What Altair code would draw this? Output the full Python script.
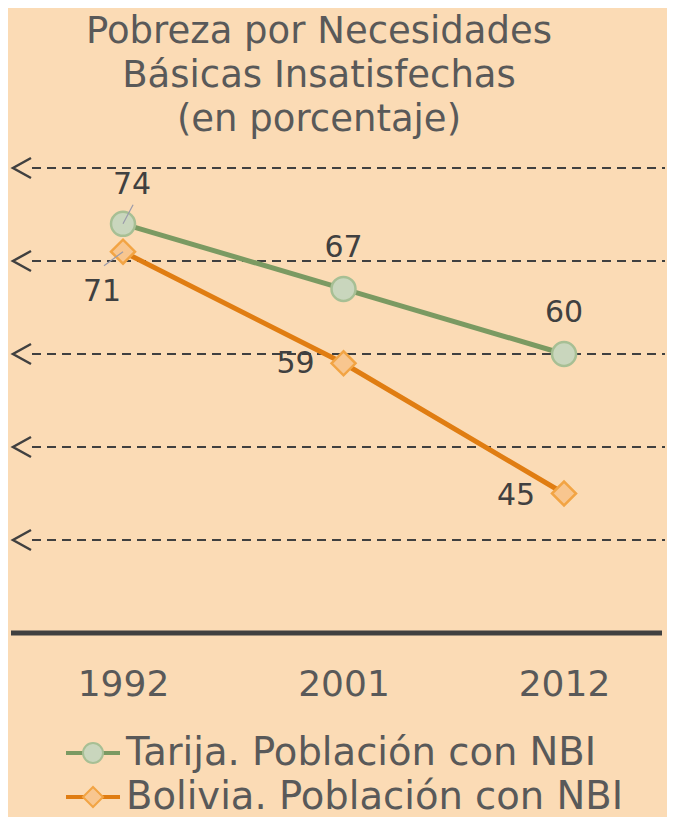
import altair as alt
import pandas as pd

# ---- data ----
years = ["1992", "2001", "2012"]
series = ["Tarija. Población con NBI", "Bolivia. Población con NBI"]
tarija = [74, 67, 60]
bolivia = [71, 59, 45]
grid_values = [40, 50, 60, 70, 80]
y_domain = [30, 80]
title_lines = ["Pobreza por Necesidades", "Básicas Insatisfechas", "(en porcentaje)"]

rows = []
for yr, v in zip(years, tarija):
    rows.append({"year": yr, "series": series[0], "value": v})
for yr, v in zip(years, bolivia):
    rows.append({"year": yr, "series": series[1], "value": v})
df = pd.DataFrame(rows)
grid_df = pd.DataFrame({"g": grid_values})
base_df = pd.DataFrame({"g": [y_domain[0]]})
legend_df = pd.DataFrame({"series": series})

# ---- style ----
FONT = "DejaVu Sans"
BG = "#FBDBB5"
DARK = "#404040"
TEXT = "#595959"
line_colors = ["#7B9A62", "#E07D12"]
fill_colors = ["#C9D6BD", "#F8C68F"]
stroke_colors = ["#A7BF94", "#F2A444"]
shapes = ["circle", "diamond"]
W, H = 656, 465

color_enc = alt.Color("series:N", scale=alt.Scale(domain=series, range=line_colors), legend=None)
fill_enc = alt.Fill("series:N", scale=alt.Scale(domain=series, range=fill_colors), legend=None)
stroke_enc = alt.Stroke("series:N", scale=alt.Scale(domain=series, range=stroke_colors), legend=None)
shape_enc = alt.Shape("series:N", scale=alt.Scale(domain=series, range=shapes), legend=None)

x_enc = alt.X(
    "year:N", sort=years,
    scale=alt.Scale(type="point", padding=0.4875, align=0.521),
    axis=alt.Axis(title=None, domain=False, ticks=False, tickSize=0,
                  labelFontSize=36, labelFont=FONT, labelColor=TEXT,
                  labelPadding=34, labelAngle=0, grid=False, labelBaseline="top"),
)
y_scale = alt.Scale(domain=y_domain, nice=False, zero=False)
y_enc = alt.Y("value:Q", scale=y_scale, axis=None)
g_enc = alt.Y("g:Q", scale=y_scale, axis=None)

base = alt.Chart(df)

grid = alt.Chart(grid_df).mark_rule(stroke=DARK, strokeWidth=2, strokeDash=[9, 6]).encode(
    x=alt.value(21), x2=alt.value(W - 2), y=g_enc
)
baseline = alt.Chart(base_df).mark_rule(stroke=DARK, strokeWidth=5).encode(
    x=alt.value(0), x2=alt.value(W - 5), y=g_enc
)
arrows = alt.Chart(grid_df).mark_point(
    shape="M0.9,-1L-0.9,0L0.9,1", size=400, filled=False, stroke=DARK,
    strokeWidth=2.5, opacity=1
).encode(x=alt.value(11), y=g_enc)

lines = base.mark_line(strokeWidth=5).encode(x=x_enc, y=y_enc, color=color_enc)
points = base.mark_point(filled=True, size=576, strokeWidth=2.5, opacity=1).encode(
    x=x_enc, y=y_enc, shape=shape_enc, fill=fill_enc, stroke=stroke_enc
)


def pick(s, yrs):
    cond = " || ".join(f"datum.year == '{y}'" for y in yrs)
    return f"datum.series == '{s}' && ({cond})"


def label(s, yrs, dx, dy):
    return base.mark_text(font=FONT, fontSize=30, color=DARK, dx=dx, dy=dy,
                          align="center", baseline="middle").encode(
        x=x_enc, y=y_enc, text="value:Q"
    ).transform_filter(pick(s, yrs))


def leader(s, yr, path, size):
    return base.mark_point(shape=path, size=size, filled=False, stroke="#9A9AAA",
                           strokeWidth=1.2, opacity=1).encode(
        x=x_enc, y=y_enc
    ).transform_filter(pick(s, [yr]))


labels = [
    label(series[0], ["1992"], 9, -39),
    label(series[0], ["2001", "2012"], 0, -41),
    label(series[1], ["1992"], -21, 40),
    label(series[1], ["2001"], -48, 1),
    label(series[1], ["2012"], -48, 2),
]
leaders = [
    leader(series[0], "1992", "M0,0L0.53,-1", 1444),
    leader(series[1], "1992", "M0,0L-1,0.74", 1444),
]

main = alt.layer(grid, baseline, arrows, lines, points, *leaders, *labels).properties(
    width=W, height=H,
    title=alt.TitleParams(text=title_lines, fontSize=37, font=FONT, color=TEXT,
                          fontWeight="normal", lineHeight=44, anchor="middle",
                          dx=-20, offset=14, frame="group"),
)

leg_y = alt.Y("series:N", sort=series,
              scale=alt.Scale(type="point", domain=series, range=[19, 63], padding=0),
              axis=None)
leg_base = alt.Chart(legend_df)
leg_line = leg_base.mark_rule(strokeWidth=4, clip=True).encode(
    y=leg_y, x=alt.value(55), x2=alt.value(109), color=color_enc)
leg_pts = leg_base.mark_point(filled=True, size=400, strokeWidth=2, opacity=1, clip=True).encode(
    y=leg_y, x=alt.value(82), shape=shape_enc, fill=fill_enc, stroke=stroke_enc)
leg_txt = leg_base.mark_text(align="left", baseline="middle", font=FONT, fontSize=38.5,
                             color=TEXT, clip=True).encode(y=leg_y, x=alt.value(115), text="series:N")
legend = alt.layer(leg_line, leg_pts, leg_txt).properties(width=W, height=83)

chart = alt.vconcat(main, legend, spacing=32).properties(
    background=BG,
    padding={"left": 0, "top": 5, "right": 0, "bottom": 0},
).configure_view(stroke=None)

chart.save("out.html", embed_options={"renderer": "svg", "actions": False})
